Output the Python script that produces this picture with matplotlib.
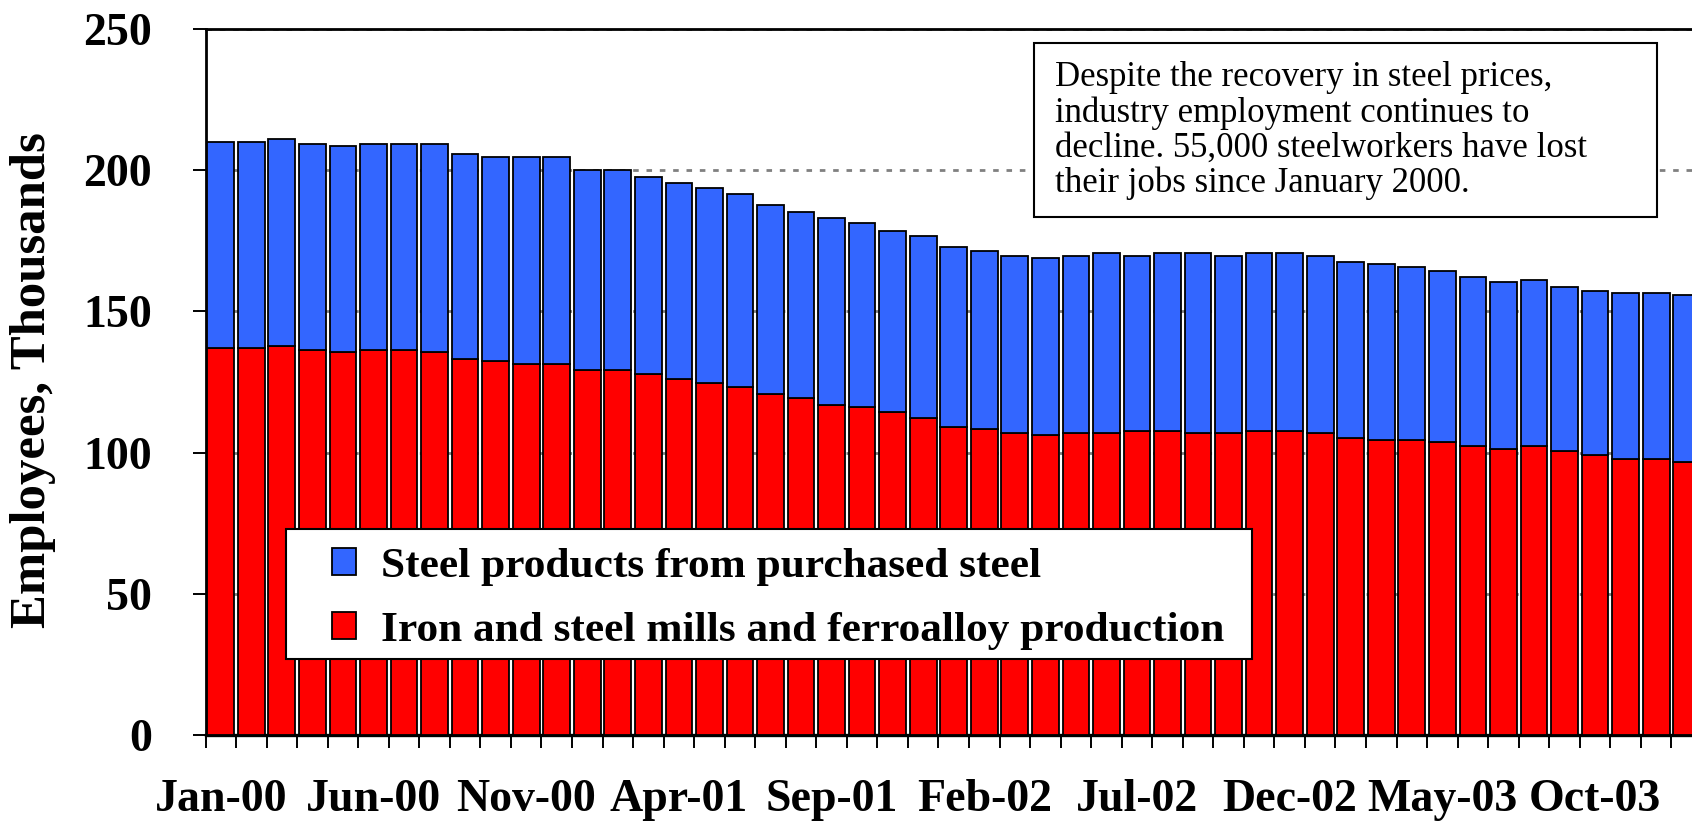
import matplotlib
matplotlib.use("Agg")
import matplotlib.pyplot as plt
from matplotlib.patches import Rectangle, Patch
import numpy as np

months = ["Jan-00", "Feb-00", "Mar-00", "Apr-00", "May-00", "Jun-00", "Jul-00", "Aug-00",
          "Sep-00", "Oct-00", "Nov-00", "Dec-00", "Jan-01", "Feb-01", "Mar-01", "Apr-01",
          "May-01", "Jun-01", "Jul-01", "Aug-01", "Sep-01", "Oct-01", "Nov-01", "Dec-01",
          "Jan-02", "Feb-02", "Mar-02", "Apr-02", "May-02", "Jun-02", "Jul-02", "Aug-02",
          "Sep-02", "Oct-02", "Nov-02", "Dec-02", "Jan-03", "Feb-03", "Mar-03", "Apr-03",
          "May-03", "Jun-03", "Jul-03", "Aug-03", "Sep-03", "Oct-03", "Nov-03", "Dec-03",
          "Jan-04"]

# Iron and steel mills and ferroalloy production (thousands)
mills = [136.9, 136.9, 137.7, 136.2, 135.5, 136.2, 136.2, 135.5, 133.1, 132.3, 131.5, 131.5,
         129.2, 129.2, 127.8, 126.2, 124.6, 123.1, 120.8, 119.2, 116.7, 116.0, 114.5, 112.1,
         109.0, 108.2, 106.8, 106.2, 106.8, 106.8, 107.5, 107.5, 106.8, 106.8, 107.5, 107.5,
         106.8, 105.3, 104.5, 104.5, 103.8, 102.2, 101.4, 102.2, 100.6, 99.2, 97.6, 97.6, 96.8]

# Steel products from purchased steel (thousands)
purchased = [73.2, 73.2, 73.2, 73.2, 73.1, 73.2, 73.2, 73.9, 72.5, 72.4, 73.2, 73.2,
             70.9, 70.9, 69.9, 69.3, 69.2, 68.5, 66.9, 66.1, 66.3, 65.4, 63.9, 64.6,
             63.9, 63.1, 62.9, 62.7, 62.8, 63.8, 62.2, 63.1, 63.8, 62.9, 63.1, 63.1,
             62.9, 62.2, 62.2, 61.3, 60.5, 59.9, 59.1, 59.0, 58.1, 58.1, 58.8, 58.8, 58.9]

yticks = [0, 50, 100, 150, 200, 250]
label_step = 5
n_labels = 10

series_names = ["Steel products from purchased steel",
                "Iron and steel mills and ferroalloy production"]
note = ("Despite the recovery in steel prices,\n"
        "industry employment continues to\n"
        "decline. 55,000 steelworkers have lost\n"
        "their jobs since January 2000.")

BLUE = "#3366FF"
RED = "#FF0000"
SERIF = "Liberation Serif"

W, H = 1692, 822
fig = plt.figure(figsize=(W / 100, H / 100), dpi=100)
fig.patch.set_facecolor("white")

n = len(months)
ax_left = 205.5 / W
ax_w = (n * 30.54) / W
ax_bottom = (H - 735) / H
ax_h = 706 / H
ax = fig.add_axes([ax_left, ax_bottom, ax_w, ax_h])

x = np.arange(n)
bw = 0.875
ax.bar(x, mills, width=bw, color=RED, edgecolor="black", linewidth=1.3, zorder=3)
ax.bar(x, purchased, width=bw, bottom=mills, color=BLUE, edgecolor="black",
       linewidth=1.3, zorder=3)

ax.set_xlim(-0.5, n - 0.5)
ax.set_ylim(0, 250)

# grid
ax.set_yticks(yticks)
ax.yaxis.grid(True, color="#808080", linewidth=2.0, linestyle=(0, (2.0, 2.8)), zorder=0)
ax.set_axisbelow(True)

ax.set_yticklabels([str(v) for v in yticks], fontfamily=SERIF, fontweight="bold",
                   fontsize=33)
ax.tick_params(axis="y", direction="out", length=9.4, width=1.4, pad=29, colors="black")

# x ticks: labels every 5 months, tick marks at category boundaries
lab_pos = list(range(0, label_step * n_labels, label_step))
ax.set_xticks(lab_pos)
ax.set_xticklabels([months[i] for i in lab_pos], fontfamily=SERIF, fontweight="bold",
                   fontsize=33)
ax.set_xticks(np.arange(-0.5, n, 1), minor=True)
ax.tick_params(axis="x", which="major", length=0, pad=32)
ax.tick_params(axis="x", which="minor", direction="out", length=9.4, width=1.4)

for s in ["left", "top"]:
    ax.spines[s].set_linewidth(2.0)
ax.spines["bottom"].set_linewidth(2.4)
ax.spines["right"].set_visible(False)

fig.text(33 / W, 1 - 380 / H, "Employees, Thousands", rotation=90, ha="center",
         va="center", fontfamily=SERIF, fontweight="bold", fontsize=36.5)

# Legend frame + legend
fig.patches.append(Rectangle((286 / W, 1 - 659 / H), 966 / W, 130 / H,
                             transform=fig.transFigure, facecolor="white",
                             edgecolor="black", linewidth=1.5, zorder=5))
handles = [Patch(facecolor=BLUE, edgecolor="black", linewidth=1.3),
           Patch(facecolor=RED, edgecolor="black", linewidth=1.3)]
leg = fig.legend(handles, series_names, loc="upper left",
                 bbox_to_anchor=(332 / W, 1 - 548 / H), frameon=False,
                 prop={"family": SERIF, "weight": "bold", "size": 31.2},
                 handlelength=0.56, handleheight=0.56, handletextpad=0.58,
                 labelspacing=0.6, borderpad=0, borderaxespad=0)
leg.set_zorder(6)

# Annotation box
fig.patches.append(Rectangle((1034 / W, 1 - 217 / H), 623 / W, 174 / H,
                             transform=fig.transFigure, facecolor="white",
                             edgecolor="black", linewidth=1.5, zorder=5))
fig.text(1055 / W, 1 - 61 / H, note, ha="left", va="top", fontfamily=SERIF,
         fontsize=25, linespacing=1.08, zorder=6)

fig.savefig("out.png", dpi=100)
